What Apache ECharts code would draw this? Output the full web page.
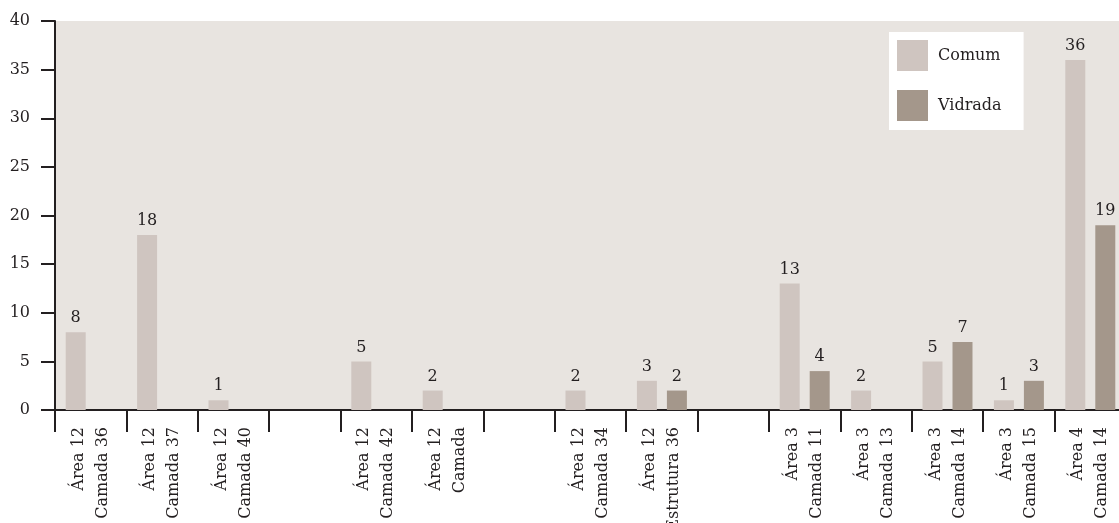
<!DOCTYPE html>
<html>
<head>
<meta charset="utf-8">
<script src="https://cdn.jsdelivr.net/npm/echarts@6/dist/echarts.min.js"></script>
<style>
  html, body { margin: 0; padding: 0; background: #fff; overflow: hidden; }
  /* the last category runs past the right edge in the original, so the canvas is a bit wider than the window */
  #chart { width: 1126px; height: 523px; }
</style>
</head>
<body>
<div id="chart"></div>
<script>
// empty strings are the blank spacer slots between the groups
var categories = [
  'Área 12\nCamada 36', 'Área 12\nCamada 37', 'Área 12\nCamada 40', '',
  'Área 12\nCamada 42', 'Área 12\nCamada', '',
  'Área 12\nCamada 34', 'Área 12\nEstrutura 36', '',
  'Área 3\nCamada 11', 'Área 3\nCamada 13', 'Área 3\nCamada 14', 'Área 3\nCamada 15',
  'Área 4\nCamada 14'
];
var comum   = [8, 18, 1, '-', 5, 2, '-', 2, 3, '-', 13, 2, 5, 1, 36];
var vidrada = ['-', '-', '-', '-', '-', '-', '-', '-', 2, '-', 4, '-', 7, 3, 19];
var yTicks = { min: 0, max: 40, interval: 5 };

var ink = '#231f20';
var font = 'DejaVu Serif';

var chart = echarts.init(document.getElementById('chart'));

function barSeries(name, data, color) {
  return {
    name: name,
    type: 'bar',
    data: data,
    barWidth: 20,
    barGap: '50%',
    itemStyle: { color: color },
    label: {
      show: true,
      position: 'top',
      distance: 6,
      color: ink,
      fontFamily: font,
      fontSize: 16
    }
  };
}

chart.setOption({
  animation: false,
  textStyle: { fontFamily: font },
  grid: {
    left: 55,
    top: 21,
    right: 0,
    height: 389,
    outerBoundsMode: 'none',
    show: true,
    backgroundColor: '#e8e4e0',
    borderWidth: 0
  },
  legend: {
    orient: 'vertical',
    left: 889,
    top: 32,
    backgroundColor: '#fff',
    padding: [8, 22, 9, 8],
    itemWidth: 31,
    itemHeight: 31,
    itemGap: 19,
    icon: 'rect',
    textStyle: { color: ink, fontFamily: font, fontSize: 16, padding: [0, 0, 0, 5] },
    data: ['Comum', 'Vidrada']
  },
  xAxis: {
    type: 'category',
    data: categories,
    axisLine: { lineStyle: { color: ink, width: 2 } },
    axisTick: { show: true, length: 22, lineStyle: { color: ink, width: 2 } },
    axisLabel: {
      interval: 0,
      rotate: 90,
      margin: 17,
      color: ink,
      fontFamily: font,
      fontSize: 16,
      lineHeight: 24
    }
  },
  yAxis: {
    type: 'value',
    min: yTicks.min,
    max: yTicks.max,
    interval: yTicks.interval,
    splitLine: { show: false },
    axisLine: { show: true, lineStyle: { color: ink, width: 2 } },
    axisTick: { show: true, length: 14, lineStyle: { color: ink, width: 2 } },
    axisLabel: { margin: 25, color: ink, fontFamily: font, fontSize: 16 }
  },
  series: [
    barSeries('Comum', comum, '#cfc5c0'),
    barSeries('Vidrada', vidrada, '#a4978b')
  ]
});
</script>
</body>
</html>
